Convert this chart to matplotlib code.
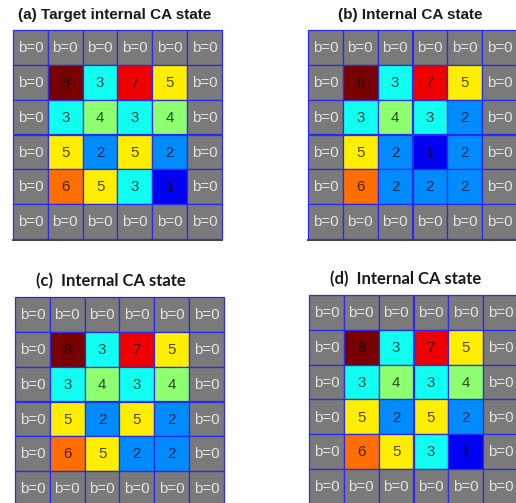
import matplotlib
matplotlib.use('Agg')
import matplotlib.pyplot as plt
from matplotlib.patches import Rectangle

# 内部状态（4x4），外圈为边界 b=0
state_a = [[8, 3, 7, 5], [3, 4, 3, 4], [5, 2, 5, 2], [6, 5, 3, 1]]
state_b = [[8, 3, 7, 5], [3, 4, 3, 2], [5, 2, 1, 2], [6, 2, 2, 2]]
state_c = [[8, 3, 7, 5], [3, 4, 3, 4], [5, 2, 5, 2], [6, 5, 2, 2]]
state_d = [[8, 3, 7, 5], [3, 4, 3, 4], [5, 2, 5, 2], [6, 5, 3, 1]]

titles = ['(a) Target internal CA state', '(b) Internal CA state',
          '(c)  Internal CA state', '(d)  Internal CA state']
boundary_label = 'b=0'

# 数值 1..8 对应的颜色（类似 jet）
value_colors = {1: '#0000f2', 2: '#008cff', 3: '#10fff0', 4: '#8eff6e',
                5: '#ffee00', 6: '#ff6e00', 7: '#ee0000', 8: '#780000'}
gray = '#7a7a7a'
line_color = '#2a2aee'

W, H = 516, 503
fig = plt.figure(figsize=(W / 100, H / 100), dpi=100)


def draw_panel(state, title, x0, y0, size, title_xy, title_font, title_size, shadow=False):
    ax = fig.add_axes([x0 / W, 1 - (y0 + size) / H, size / W, size / H])
    n = len(state) + 2
    ax.set_xlim(0, n)
    ax.set_ylim(n, 0)
    ax.axis('off')
    for i in range(n):
        for j in range(n):
            inner = 0 < i < n - 1 and 0 < j < n - 1
            if inner:
                v = state[i - 1][j - 1]
                fc = value_colors[v]
                txt, tc, alpha = str(v), 'black', 0.7
            else:
                fc = gray
                txt, tc, alpha = boundary_label, '#e4e4e4', 1
            ax.add_patch(Rectangle((j, i), 1, 1, facecolor=fc, edgecolor=line_color,
                                   linewidth=0.9, clip_on=False))
            ax.text(j + 0.5, i + 0.52, txt, ha='center', va='center', color=tc,
                    alpha=alpha, fontsize=10.8, family='Liberation Sans')
    if shadow:
        # 截图里网格下方的阴影
        ax.plot([0, n], [n + 0.04, n + 0.04], color='#444444', lw=1.5, clip_on=False)
    fig.text(title_xy[0] / W, 1 - title_xy[1] / H, title, ha='center', va='center',
             fontsize=title_size, fontweight='bold', family=title_font, color='#1a1a1a')


draw_panel(state_a, titles[0], 13, 30, 209, (115, 15), 'Liberation Sans', 11, shadow=True)
draw_panel(state_b, titles[1], 308, 30, 209, (410, 15), 'Liberation Sans', 11, shadow=True)
draw_panel(state_c, titles[2], 15, 297, 209, (111, 281), 'Lato', 12)
draw_panel(state_d, titles[3], 309, 295, 209, (406, 279), 'Lato', 12)

fig.savefig('out.png', dpi=100)
